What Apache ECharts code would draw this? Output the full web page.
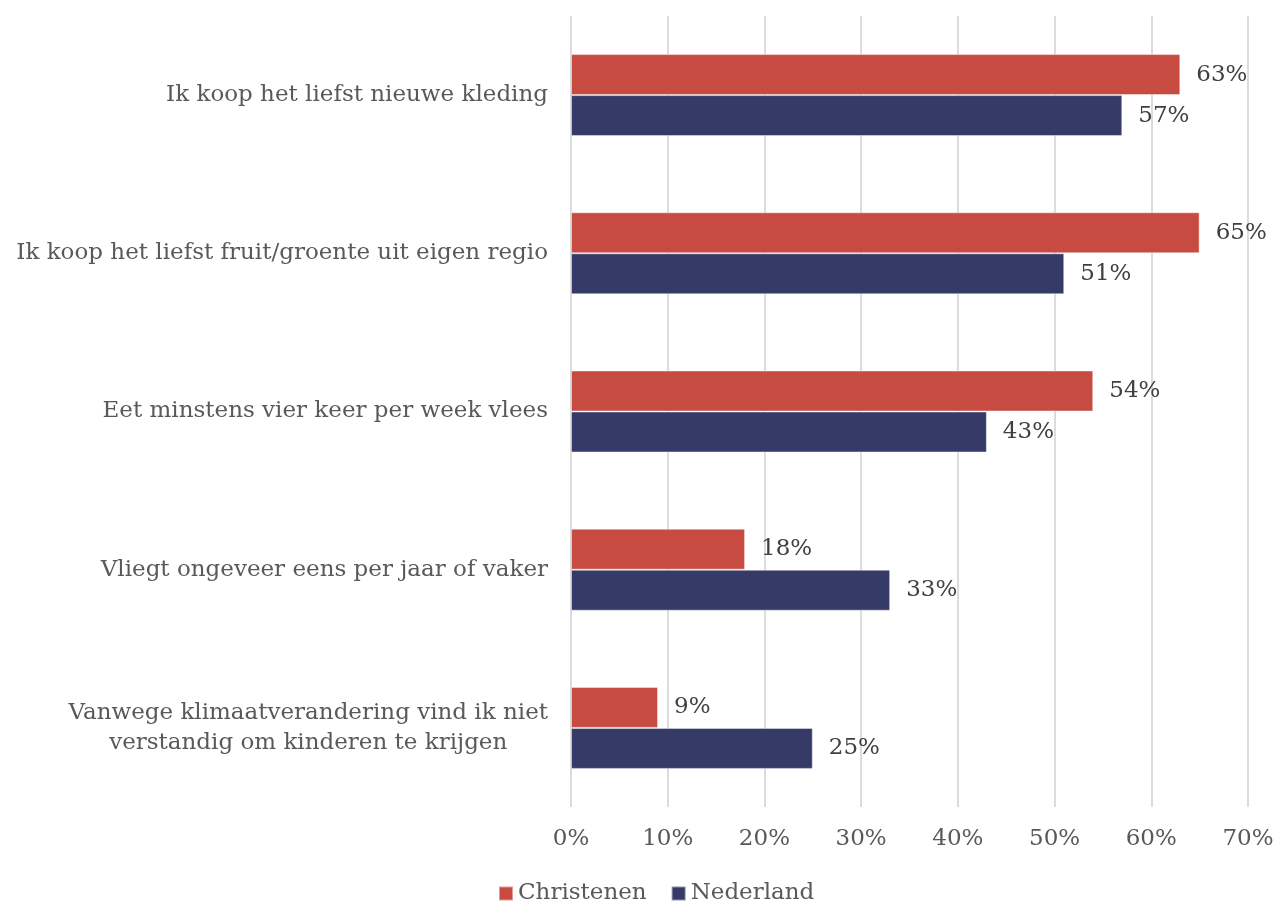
<!DOCTYPE html>
<html>
<head>
<meta charset="utf-8">
<script src="https://cdn.jsdelivr.net/npm/echarts@6/dist/echarts.min.js"></script>
<style>
  html, body { margin: 0; padding: 0; background: #ffffff; }
  #chart { width: 1280px; height: 902px; }
</style>
</head>
<body>
<div id="chart"></div>
<script>
// Statements, top to bottom
const categories = [
  'Ik koop het liefst nieuwe kleding',
  'Ik koop het liefst fruit/groente uit eigen regio',
  'Eet minstens vier keer per week vlees',
  'Vliegt ongeveer eens per jaar of vaker',
  'Vanwege klimaatverandering vind ik niet\nverstandig om kinderen te krijgen'
];
// Share agreeing, in percent
const christenen = [63, 65, 54, 18, 9];
const nederland = [57, 51, 43, 33, 25];
const seriesNames = ['Christenen', 'Nederland'];

const FONT = '"DejaVu Serif", serif';
const SIZE = 23;

const chart = echarts.init(document.getElementById('chart'));

const valueLabel = {
  show: true,
  position: 'right',
  distance: 16,
  formatter: p => p.value + '%',
  fontFamily: FONT,
  fontSize: SIZE,
  color: '#404040'
};

chart.setOption({
  animation: false,
  textStyle: { fontFamily: FONT },
  grid: { left: 571, right: 32, top: 16, bottom: 95, containLabel: false },
  legend: {
    left: 493,
    top: 877,
    itemWidth: 14,
    itemHeight: 14,
    itemGap: 24,
    icon: 'rect',
    textStyle: { fontFamily: FONT, fontSize: SIZE, color: '#595959' },
    data: seriesNames
  },
  xAxis: {
    type: 'value',
    min: 0,
    max: 70,
    interval: 10,
    axisLine: { show: false },
    axisTick: { show: false },
    splitLine: { lineStyle: { color: '#dcdcdc', width: 2 } },
    axisLabel: {
      formatter: v => v + '%',
      fontFamily: FONT,
      fontSize: SIZE,
      color: '#595959',
      margin: 21
    }
  },
  yAxis: {
    type: 'category',
    inverse: true,
    data: categories,
    axisLine: { show: false },
    axisTick: { show: false },
    axisLabel: {
      margin: 23,
      formatter: v => v.split('\n').map(s => '{c|' + s + '}').join('\n'),
      rich: {
        c: { align: 'center', fontFamily: FONT, fontSize: SIZE, color: '#595959', lineHeight: 30 }
      }
    }
  },
  series: [
    {
      name: seriesNames[0],
      type: 'bar',
      data: christenen,
      barWidth: 41,
      barGap: '0%',
      itemStyle: { color: '#C84B41', borderColor: 'rgba(255,255,255,0.45)', borderWidth: 1 },
      label: valueLabel
    },
    {
      name: seriesNames[1],
      type: 'bar',
      data: nederland,
      barWidth: 41,
      barGap: '0%',
      itemStyle: { color: '#363A66', borderColor: 'rgba(255,255,255,0.45)', borderWidth: 1 },
      label: valueLabel
    }
  ]
});
</script>
</body>
</html>
